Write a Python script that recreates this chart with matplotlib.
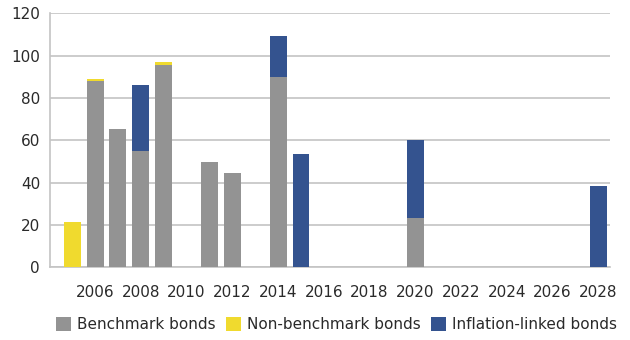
import numpy as np
import matplotlib.pyplot as plt

plt.rcParams['font.family'] = ['DejaVu Sans']

# Maturity year and amount outstanding by bond type
years = np.arange(2005, 2029)
benchmark = [0, 88, 65.3, 55, 95.6, 0, 49.7, 44.5, 0, 89.9, 0,
             0, 0, 0, 0, 23.3, 0, 0, 0, 0, 0, 0, 0, 0]
non_benchmark = [21.5, 0.8, 0, 0, 1.4, 0, 0, 0, 0, 0, 0,
                 0, 0, 0, 0, 0, 0, 0, 0, 0, 0, 0, 0, 0]
inflation_linked = [0, 0, 0, 31.1, 0, 0, 0, 0, 0, 19.4, 53.5,
                    0, 0, 0, 0, 36.8, 0, 0, 0, 0, 0, 0, 0, 38.5]
tick_years = list(range(2006, 2029, 2))

grey = '#939393'
yellow = '#f0da2e'
blue = '#34538f'

fig = plt.figure(figsize=(6.3, 3.4), dpi=100)
ax = fig.add_axes([0.079, 0.214, 0.889, 0.747])

b = np.array(benchmark)
nb = np.array(non_benchmark)
il = np.array(inflation_linked)
w = 0.74
ax.bar(years, b, w, color=grey, label='Benchmark bonds', zorder=3)
ax.bar(years, nb, w, bottom=b, color=yellow, label='Non-benchmark bonds', zorder=3)
ax.bar(years, il, w, bottom=b + nb, color=blue, label='Inflation-linked bonds', zorder=3)

ax.set_xlim(2004.02, 2028.5)
ax.set_ylim(0, 120)
ax.set_yticks(range(0, 121, 20))
ax.set_xticks(tick_years)
ax.set_xticklabels([str(y) for y in tick_years])
ax.tick_params(axis='both', length=0, labelsize=11, colors='#2a2a2a')
ax.tick_params(axis='x', pad=13)
ax.tick_params(axis='y', pad=7)

ax.grid(axis='y', color='#c4c4c4', linewidth=1.2, zorder=0)
for s in ['top', 'right']:
    ax.spines[s].set_visible(False)
ax.spines['left'].set_color('#c4c4c4')
ax.spines['bottom'].set_color('#c4c4c4')
ax.spines['left'].set_linewidth(1.2)
ax.spines['bottom'].set_linewidth(1.2)

fig.legend(loc='center', bbox_to_anchor=(0.534, 0.045), ncol=3, frameon=False,
           fontsize=11, handlelength=1.0, handleheight=1.0, handletextpad=0.35,
           columnspacing=0.7, labelcolor='#2a2a2a')

fig.savefig('out.png', dpi=100)
